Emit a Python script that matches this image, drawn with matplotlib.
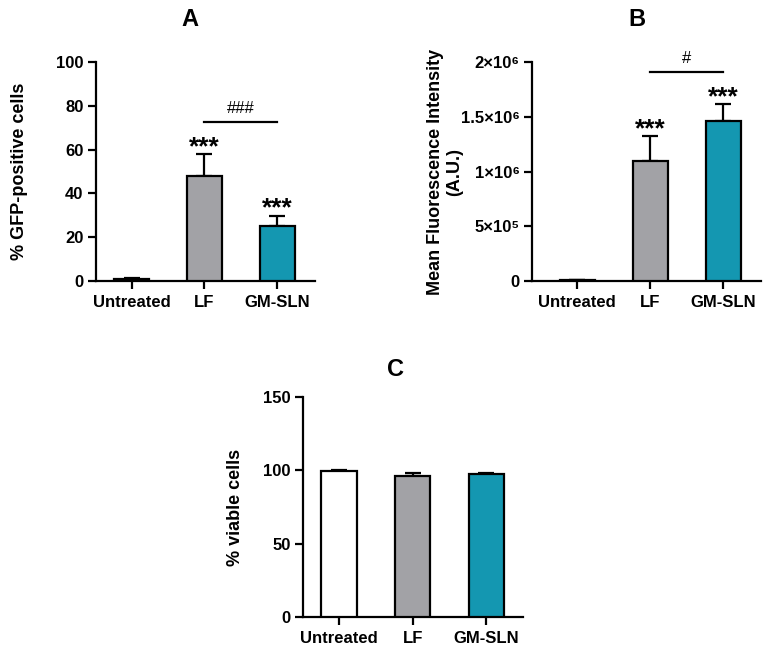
import matplotlib
matplotlib.use("Agg")
import matplotlib.pyplot as plt

plt.rcParams['font.family'] = ['Liberation Sans', 'DejaVu Sans']
plt.rcParams['font.weight'] = 'bold'

categories = ["Untreated", "LF", "GM-SLN"]
colors = ["#FFFFFF", "#A2A2A6", "#1497B1"]

gfp_mean = [0.7, 48.0, 25.2]
gfp_err = [0.5, 10.2, 4.5]

mfi_mean = [0.01e6, 1.10e6, 1.46e6]
mfi_err = [0.0, 0.22e6, 0.155e6]
mfi_ticks = [0, 5e5, 1e6, 1.5e6, 2e6]
mfi_ticklabels = ["0", "5×10⁵", "1×10⁶", "1.5×10⁶", "2×10⁶"]

via_mean = [99.5, 96.3, 97.4]
via_err = [0.8, 1.8, 0.8]

W, H = 767, 651
fig = plt.figure(figsize=(W / 100, H / 100), dpi=100)


def add_axes(left, right, top, bottom):
    return fig.add_axes([left / W, 1 - bottom / H, (right - left) / W, (bottom - top) / H])


def style(ax, xlim, ylim, yticks, yticklabels=None):
    for s in ['top', 'right']:
        ax.spines[s].set_visible(False)
    for s in ['left', 'bottom']:
        ax.spines[s].set_linewidth(1.6)
    ax.set_xlim(*xlim)
    ax.set_ylim(*ylim)
    ax.spines['left'].set_bounds(ylim[0], ylim[1])
    ax.set_yticks(yticks)
    if yticklabels is not None:
        ax.set_yticklabels(yticklabels)
    ax.set_xticks(range(len(categories)))
    ax.set_xticklabels(categories)
    ax.tick_params(axis='both', direction='out', length=6, width=1.6, labelsize=12, pad=3)
    ax.tick_params(axis='x', pad=4)
    for lbl in ax.get_xticklabels() + ax.get_yticklabels():
        lbl.set_fontweight('bold')


def bars(ax, means, errs):
    x = list(range(len(categories)))
    ax.bar(x, means, width=0.48, color=colors, edgecolor='black', linewidth=1.6, zorder=3)
    ax.errorbar(x, means, yerr=[[0] * len(errs), errs], fmt='none', ecolor='black',
                elinewidth=1.6, capsize=6, capthick=1.6, zorder=2)


def stars(ax, x, y):
    ax.text(x, y, "***", ha='center', va='baseline', fontsize=19, fontweight='bold')


# Panel A
axA = add_axes(96, 315, 62, 281)
bars(axA, gfp_mean, gfp_err)
style(axA, (-0.49, 2.52), (0, 100), [0, 20, 40, 60, 80, 100])
axA.set_ylabel("% GFP-positive cells", fontsize=13, fontweight='bold')
axA.yaxis.set_label_coords(-0.31, 0.5)
axA.plot([1, 2], [72.6, 72.6], color='black', lw=1.6, clip_on=False)
axA.text(1.5, 76.9, "###", ha='center', va='baseline', fontsize=12, fontweight='normal')
stars(axA, 1, 57.8)
stars(axA, 2, 29.9)
fig.text(190 / W, 1 - 20 / H, "A", ha='center', va='center', fontsize=17, fontweight='bold')

# Panel B
axB = add_axes(532, 761, 62, 281)
bars(axB, mfi_mean, mfi_err)
style(axB, (-0.62, 2.52), (0, 2e6), mfi_ticks, mfi_ticklabels)
axB.set_ylabel("Mean Fluorescence Intensity\n(A.U.)", fontsize=13, fontweight='bold')
axB.yaxis.set_label_coords(-0.30, 0.5)
axB.plot([1, 2], [1.909e6, 1.909e6], color='black', lw=1.6, clip_on=False)
axB.text(1.5, 1.995e6, "#", ha='center', va='baseline', fontsize=12, fontweight='normal')
stars(axB, 1, 1.32e6)
stars(axB, 2, 1.61e6)
fig.text(637 / W, 1 - 20 / H, "B", ha='center', va='center', fontsize=17, fontweight='bold')

# Panel C
axC = add_axes(303, 523, 397, 617)
bars(axC, via_mean, via_err)
style(axC, (-0.49, 2.5), (0, 150), [0, 50, 100, 150])
axC.set_ylabel("% viable cells", fontsize=13, fontweight='bold')
axC.yaxis.set_label_coords(-0.27, 0.5)
fig.text(395 / W, 1 - 370 / H, "C", ha='center', va='center', fontsize=17, fontweight='bold')

fig.savefig("out.png", dpi=100, facecolor='white')
